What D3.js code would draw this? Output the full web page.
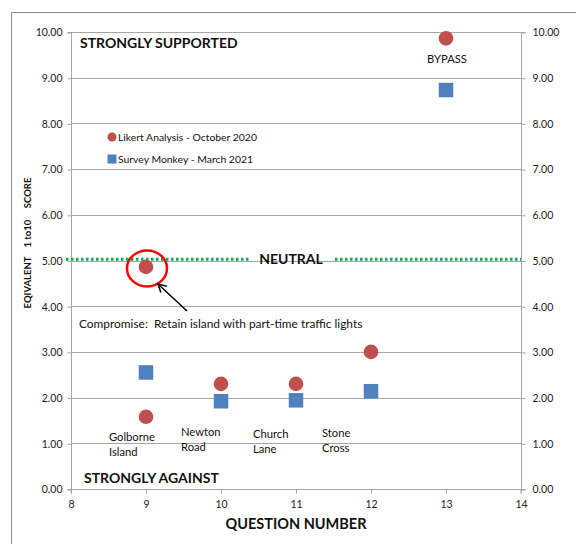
<!DOCTYPE html>
<html>
<head>
<meta charset="utf-8">
<script src="https://cdn.jsdelivr.net/npm/d3@7"></script>
<style>
  html, body { margin: 0; padding: 0; background: #fff; }
  svg { display: block; font-family: Lato, "Open Sans", sans-serif; }
</style>
</head>
<body>
<svg id="chart" width="576" height="544"></svg>
<script>
// Question numbers and scores
const likertQuestions = [9, 9, 10, 11, 12, 13];
const likertScores    = [4.86, 1.58, 2.30, 2.30, 3.00, 9.86];
const surveyQuestions = [9, 10, 11, 12, 13];
const surveyScores    = [2.55, 1.92, 1.94, 2.14, 8.73];

const xTicks = [8, 9, 10, 11, 12, 13, 14];
const yTicks = [0, 1, 2, 3, 4, 5, 6, 7, 8, 9, 10];
const neutralScore = 5.03;

const placeNames = [
  ["Golborne", "Island"],
  ["Newton", "Road"],
  ["Church", "Lane"],
  ["Stone", "Cross"]
];
const placeQuestions = [9, 10, 11, 12];

const seriesNames = ["Likert Analysis - October 2020", "Survey Monkey - March 2021"];
const red = "#c0504d", blue = "#4f81bd";

const svg = d3.select("#chart");

// Outer frame
svg.append("rect").attr("x", 11.5).attr("y", 12.5).attr("width", 600).attr("height", 600)
  .attr("fill", "none").attr("stroke", "#8c8c8c").attr("stroke-width", 1);

const x = d3.scaleLinear().domain([8, 14]).range([71, 521]);
const y = d3.scaleLinear().domain([0, 10]).range([489, 32]);

// Gridlines
svg.append("g").selectAll("line").data(yTicks.filter(d => d > 0)).join("line")
  .attr("x1", x(8)).attr("x2", x(14))
  .attr("y1", d => Math.round(y(d)) + 0.5).attr("y2", d => Math.round(y(d)) + 0.5)
  .attr("stroke", "#a6a6a6").attr("stroke-width", 1);

const fmt = d3.format(".2f");

// Left axis
const gl = svg.append("g").attr("transform", `translate(${x(8) + 0.5},0.5)`)
  .call(d3.axisLeft(y).tickValues(yTicks).tickFormat(fmt).tickSize(4).tickPadding(5));
// Right axis
const gr = svg.append("g").attr("transform", `translate(${x(14) + 0.5},0.5)`)
  .call(d3.axisRight(y).tickValues(yTicks).tickFormat(fmt).tickSize(4).tickPadding(7));
// Bottom axis
const gb = svg.append("g").attr("transform", `translate(0,${y(0) + 0.5})`)
  .call(d3.axisBottom(x).tickValues(xTicks).tickFormat(d3.format("d")).tickSize(4).tickPadding(7));

[gl, gr, gb].forEach(g => {
  g.select(".domain").attr("stroke", "#a6a6a6");
  g.selectAll(".tick line").attr("stroke", "#a6a6a6");
  g.selectAll(".tick text").attr("fill", "#222").attr("font-size", 10.5)
    .attr("font-family", "Lato, sans-serif");
});
gl.select(".domain").attr("d", `M-4,${y(0)}H0V${y(10)}H-4`);
gr.select(".domain").attr("d", `M4,${y(0)}H0V${y(10)}H4`);
gb.select(".domain").attr("d", `M${x(8)},4V0H${x(14)}V4`);

// Neutral line, broken around its label
const neutralY = y(neutralScore);
const dotted = [[66, 250], [335, x(14)]];
svg.append("g").selectAll("line").data(dotted).join("line")
  .attr("x1", d => d[0]).attr("x2", d => d[1])
  .attr("y1", neutralY).attr("y2", neutralY)
  .attr("stroke", "#00b050").attr("stroke-width", 3).attr("stroke-dasharray", "2.5,2.5");
svg.append("text").attr("x", 291).attr("y", neutralY + 5).attr("text-anchor", "middle")
  .attr("font-weight", "bold").attr("font-size", 14).attr("fill", "#111").text("NEUTRAL");

// Series markers
svg.append("g").selectAll("circle").data(likertQuestions).join("circle")
  .attr("cx", d => x(d)).attr("cy", (d, i) => y(likertScores[i])).attr("r", 7.3)
  .attr("fill", red);
const sq = 14.5;
svg.append("g").selectAll("rect").data(surveyQuestions).join("rect")
  .attr("x", d => x(d) - sq / 2).attr("y", (d, i) => y(surveyScores[i]) - sq / 2)
  .attr("width", sq).attr("height", sq).attr("fill", blue);

// Highlight ring around the compromise score
svg.append("ellipse").attr("cx", x(likertQuestions[0]) + 1).attr("cy", y(likertScores[0]) + 1.5)
  .attr("rx", 20).attr("ry", 18).attr("fill", "none").attr("stroke", "#ff0000").attr("stroke-width", 2.5);

// Arrow pointing to the ring
const tip = [158, 284], tail = [187, 311];
svg.append("line").attr("x1", tail[0]).attr("y1", tail[1]).attr("x2", tip[0]).attr("y2", tip[1])
  .attr("stroke", "#000").attr("stroke-width", 1.5);
const ang = Math.atan2(tail[1] - tip[1], tail[0] - tip[0]);
const head = [ang - 0.5, ang + 0.5].map(a => [tip[0] + 9 * Math.cos(a), tip[1] + 9 * Math.sin(a)]);
svg.append("path").attr("d", `M${head[0]}L${tip}L${head[1]}`)
  .attr("fill", "none").attr("stroke", "#000").attr("stroke-width", 1.5);

svg.append("text").attr("x", 79).attr("y", 328).attr("font-size", 11.9).attr("fill", "#111")
  .attr("xml:space", "preserve")
  .text("Compromise:  Retain island with part-time traffic lights");

// Place labels under each question
const labelShift = [-37, -40, -43, -49];
const labelTop = [441, 436, 438, 437];
const pl = svg.append("g").selectAll("text").data(placeNames).join("text")
  .attr("font-size", 11.2).attr("fill", "#111")
  .attr("x", (d, i) => x(placeQuestions[i]) + labelShift[i])
  .attr("y", (d, i) => labelTop[i]);
pl.selectAll("tspan").data(d => d).join("tspan")
  .attr("x", function () { return this.parentNode.getAttribute("x"); })
  .attr("dy", (d, i) => i === 0 ? 0 : 15).text(d => d);

svg.append("text").attr("x", x(13) + 1).attr("y", 63).attr("text-anchor", "middle")
  .attr("font-size", 11.2).attr("fill", "#111").text("BYPASS");

// Region captions
svg.append("text").attr("x", 80).attr("y", 48).attr("font-weight", "bold").attr("font-size", 14)
  .attr("fill", "#111").text("STRONGLY SUPPORTED");
svg.append("text").attr("x", 84).attr("y", 483).attr("font-weight", "bold").attr("font-size", 14)
  .attr("fill", "#111").text("STRONGLY AGAINST");

// Legend
const lg = svg.append("g");
lg.append("circle").attr("cx", 112).attr("cy", 137).attr("r", 4.5).attr("fill", red);
lg.append("rect").attr("x", 107.5).attr("y", 154.5).attr("width", 9).attr("height", 9).attr("fill", blue);
lg.selectAll("text").data(seriesNames).join("text")
  .attr("x", 118).attr("y", (d, i) => 141 + i * 22).attr("font-size", 10.4).attr("fill", "#111")
  .text(d => d);

// Axis titles
svg.append("text").attr("x", 296).attr("y", 529).attr("text-anchor", "middle")
  .attr("font-weight", "bold").attr("font-size", 14.5).attr("fill", "#111").text("QUESTION NUMBER");
svg.append("text").attr("transform", "translate(31,243) rotate(-90)").attr("text-anchor", "middle")
  .attr("font-weight", "bold").attr("font-size", 9.5).attr("fill", "#111")
  .attr("xml:space", "preserve").text("EQIVALENT    1 to10     SCORE");
</script>
</body>
</html>
